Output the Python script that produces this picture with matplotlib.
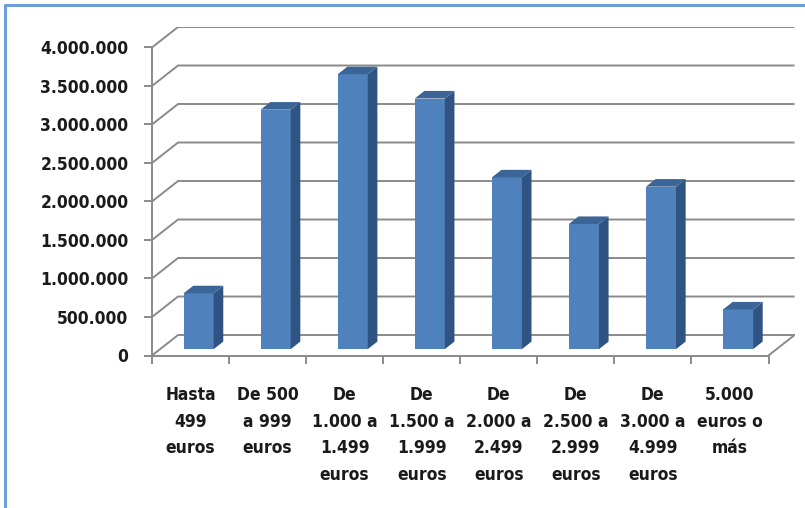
import matplotlib
matplotlib.use("Agg")
import matplotlib.pyplot as plt
from matplotlib.patches import Polygon
from matplotlib.lines import Line2D
from matplotlib.ticker import FuncFormatter, MultipleLocator
import numpy as np

categories = [
    "Hasta\n499\neuros",
    "De 500\na 999\neuros",
    "De\n1.000 a\n1.499\neuros",
    "De\n1.500 a\n1.999\neuros",
    "De\n2.000 a\n2.499\neuros",
    "De\n2.500 a\n2.999\neuros",
    "De\n3.000 a\n4.999\neuros",
    "5.000\neuros o\nmás",
]
values = [725000, 3110000, 3570000, 3255000, 2230000, 1625000, 2110000, 515000]
y_max = 4000000
y_step = 500000

# oblique projection of the depth axis (in data units)
DX = 0.338
DY = 266000
bar_w = 0.39
d_front, d_back = 0.31, 0.68

c_front = "#4F81BD"
c_side = "#2F5483"
c_top = "#3C6597"
c_grid = "#8A8A8A"

W, H = 805, 508
fig = plt.figure(figsize=(W / 100, H / 100), dpi=100)
n = len(categories)
px_per_cat = (768.5 - 152) / n
left_px, bottom_px = 152, 355.5
top_px = 27
right_px = left_px + (n + DX) * px_per_cat
ax = fig.add_axes([left_px / W, (H - bottom_px) / H,
                   (right_px - left_px) / W, (bottom_px - top_px) / H])
ax.set_xlim(0, n + DX)
ax.set_ylim(0, y_max + DY)

font = dict(family="DejaVu Sans", stretch="condensed", weight="bold")

# back wall / side wall gridlines
for v in np.arange(0, y_max + 1, y_step):
    ax.plot([0, DX, n + DX], [v, v + DY, v + DY], color=c_grid, lw=1.4,
            solid_capstyle="butt", zorder=1)
# floor right edge
ax.plot([n, n + DX], [0, DY], color=c_grid, lw=1.4, zorder=1)

# bars: front face via ax.bar, side and top faces as projected polygons
x = np.arange(n) + 0.5
x0 = x - bar_w / 2 + d_front * DX
base = d_front * DY
depth_x = (d_back - d_front) * DX
depth_y = (d_back - d_front) * DY
ax.bar(x0, values, width=bar_w, bottom=base, align="edge", color=c_front,
       edgecolor="none", zorder=3)
for xi, v in zip(x0, values):
    top = base + v
    side = Polygon([(xi + bar_w, base), (xi + bar_w + depth_x, base + depth_y),
                    (xi + bar_w + depth_x, top + depth_y), (xi + bar_w, top)],
                   closed=True, facecolor=c_side, edgecolor="none", zorder=3)
    lid = Polygon([(xi, top), (xi + bar_w, top),
                   (xi + bar_w + depth_x, top + depth_y), (xi + depth_x, top + depth_y)],
                  closed=True, facecolor=c_top, edgecolor="none", zorder=3)
    ax.add_patch(side)
    ax.add_patch(lid)

# axes
for s in ["top", "right"]:
    ax.spines[s].set_visible(False)
ax.spines["left"].set_bounds(0, y_max)
ax.spines["bottom"].set_bounds(0, n)
for s in ["left", "bottom"]:
    ax.spines[s].set_color(c_grid)
    ax.spines[s].set_linewidth(1.4)
    ax.spines[s].set_zorder(2)

ax.yaxis.set_major_locator(MultipleLocator(y_step))
ax.set_yticks(np.arange(0, y_max + 1, y_step))
ax.yaxis.set_major_formatter(FuncFormatter(lambda v, p: f"{int(v):,}".replace(",", ".")))
ax.tick_params(axis="y", length=6, width=1.4, color=c_grid, pad=11)
for t in ax.get_yticklabels():
    t.set_fontproperties(matplotlib.font_manager.FontProperties(size=12.5, **font))
    t.set_color("#1a1a1a")

ax.set_xticks(x)
ax.set_xticklabels(categories)
ax.set_xticks(np.arange(0, n + 1), minor=True)
ax.tick_params(axis="x", which="major", length=0, pad=22)
ax.tick_params(axis="x", which="minor", length=6, width=1.4, color=c_grid)
for t in ax.get_xticklabels():
    t.set_fontproperties(matplotlib.font_manager.FontProperties(size=12.5, **font))
    t.set_linespacing(1.62)
    t.set_color("#1a1a1a")
    t.set_verticalalignment("top")

# chart frame (top and left edges)
fig.add_artist(Line2D([4.5 / W, 4.5 / W, 1.0], [0.0, 1 - 4.5 / H, 1 - 4.5 / H],
                      transform=fig.transFigure, color="#6E9ED9", lw=2.2))

fig.savefig("out.png", dpi=100, facecolor="white")
